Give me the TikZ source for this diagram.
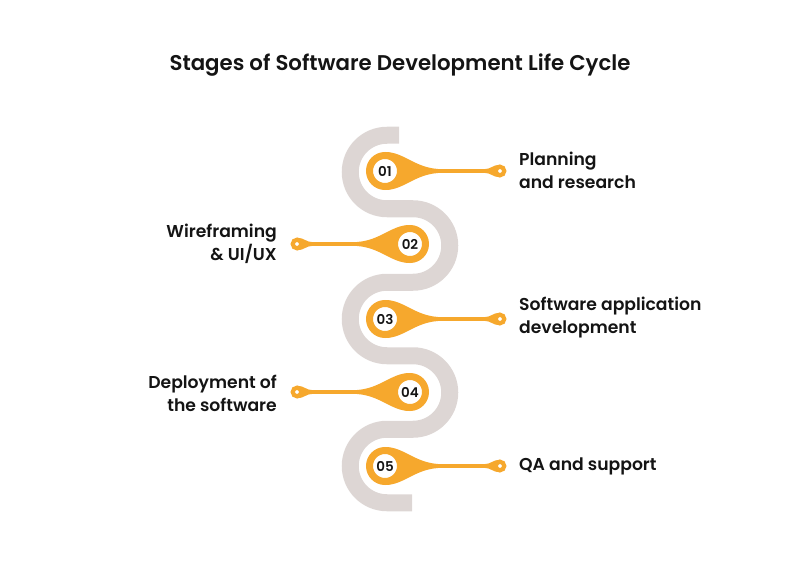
\documentclass[tikz,border=0pt]{standalone}
\usepackage{fontspec}
\setmainfont{Poppins}[BoldFont={* SemiBold}]
\usetikzlibrary{calc,backgrounds}
\definecolor{orng}{RGB}{246,168,45}
\definecolor{greyS}{RGB}{221,214,212}
\definecolor{txt}{RGB}{20,20,20}
\newcommand\teardrop[3]{%
 \fill[orng] ($(#1)+(0,-19)$) .. controls ($(#1)+(#3*20,-19)$) and ($(#1)+(#3*30,-1.8)$) .. ($(#1)+(#3*58,-1.8)$)
  -- ($(#2)+(#3*-16,-1.8)$) .. controls ($(#2)+(#3*-9,-1.8)$) and ($(#2)+(#3*-7,-6.3)$) .. ($(#2)+(0,-6.3)$)
  -- ($(#2)+(0,6.3)$) .. controls ($(#2)+(#3*-7,6.3)$) and ($(#2)+(#3*-9,1.8)$) .. ($(#2)+(#3*-16,1.8)$)
  -- ($(#1)+(#3*58,1.8)$) .. controls ($(#1)+(#3*30,1.8)$) and ($(#1)+(#3*20,19)$) .. ($(#1)+(0,19)$) -- cycle;}
\tikzset{
 stagecircle/.style={circle, draw=orng, line width=7pt, fill=white, minimum size=31pt, inner sep=0pt, text=txt, font=\bfseries\fontsize{13.5}{15}\selectfont},
 endcircle/.style={circle, draw=orng, line width=4.2pt, fill=white, minimum size=8.5pt, inner sep=0pt},
 lbl/.style={text=txt, font=\bfseries\fontsize{17.2}{23}\selectfont, inner sep=0pt},
 lblR/.style={lbl, anchor=west, align=left},
 lblL/.style={lbl, anchor=east, align=right},
 spath/.style={draw=greyS, line width=17pt}
}
\begin{document}
\begin{tikzpicture}[x=1pt,y=-1pt]
\useasboundingbox (0,0) rectangle (800,580);
\node[text=txt, font=\bfseries\fontsize{21.3}{24}\selectfont] (title) at (400,65) {Stages of Software Development Life Cycle};
% stage circles
\node[stagecircle] (c1) at (385,171) {01};
\node[stagecircle] (c2) at (410,244) {02};
\node[stagecircle] (c3) at (385,319) {03};
\node[stagecircle] (c4) at (410,392) {04};
\node[stagecircle] (c5) at (385,466) {05};
% end circles
\node[endcircle] (e1) at (500,171) {};
\node[endcircle] (e2) at (297,244) {};
\node[endcircle] (e3) at (500,319) {};
\node[endcircle] (e4) at (297,392) {};
\node[endcircle] (e5) at (500,466) {};
\begin{scope}[on background layer]
% grey S path
\draw[spath] (399,135.25) -- (387,135.25) arc[start angle=-90, end angle=-270, radius=36.75]
  -- (413,208.75) arc[start angle=-90, end angle=90, radius=36.75]
  -- (387,282.25) arc[start angle=-90, end angle=-270, radius=36.75]
  -- (413,355.75) arc[start angle=-90, end angle=90, radius=36.75]
  -- (387,429.25) arc[start angle=-90, end angle=-270, radius=36.75]
  -- (412,502.75);
\teardrop{c1}{e1}{1}
\teardrop{c2}{e2}{-1}
\teardrop{c3}{e3}{1}
\teardrop{c4}{e4}{-1}
\teardrop{c5}{e5}{1}
\end{scope}
% labels
\node[lblR] (l1) at (519,170) {Planning\\and research};
\node[lblL] (l2) at (277,244) {Wireframing\\\& UI/UX};
\node[lblR] (l3) at (519,318) {Software application\\development};
\node[lblL] (l4) at (277,393) {Deployment of\\the software};
\node[lblR] (l5) at (519,466) {QA and support};
\end{tikzpicture}
\end{document}
